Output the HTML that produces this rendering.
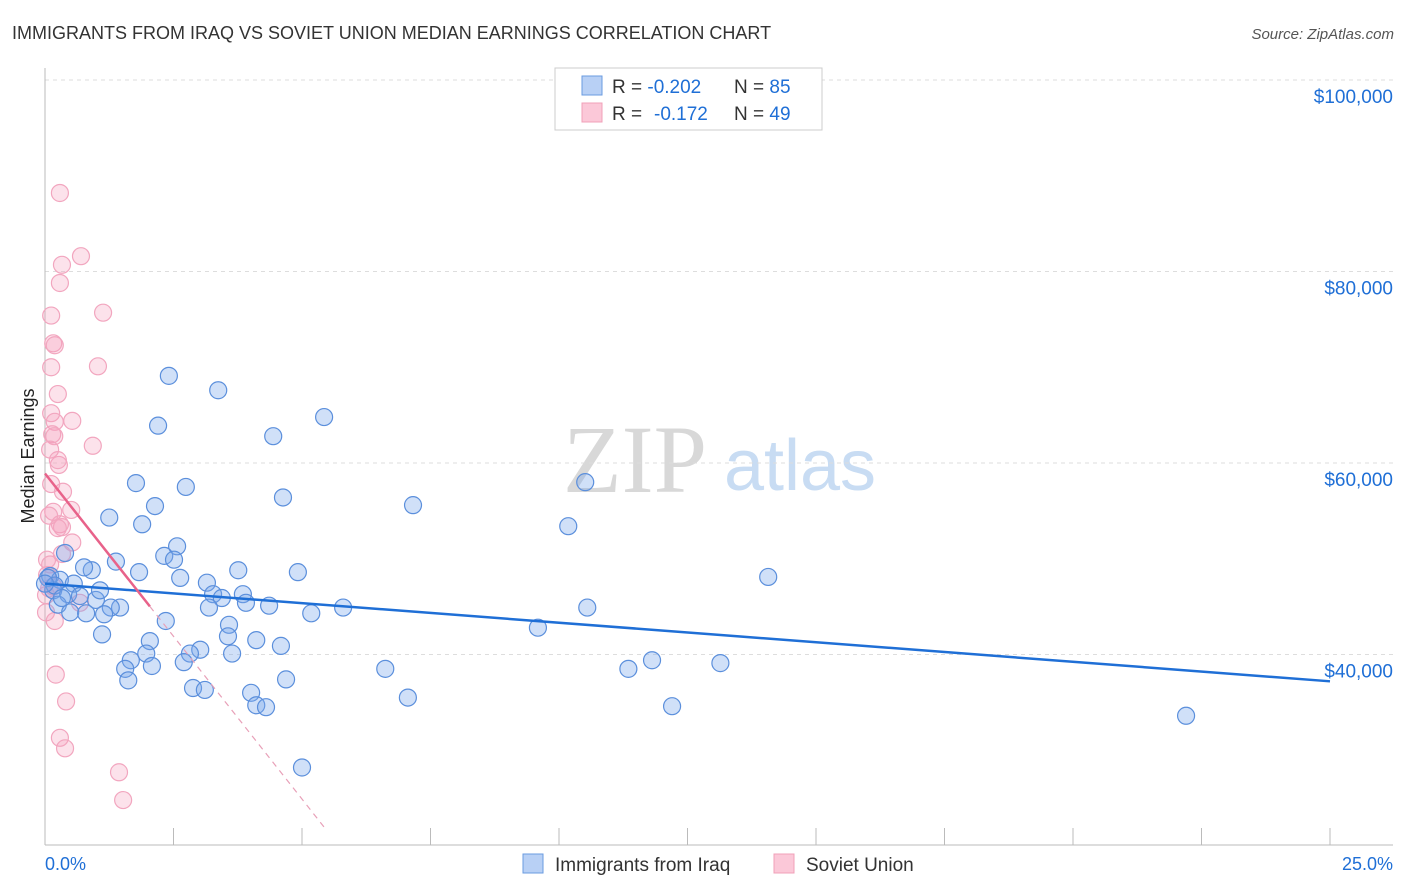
<!DOCTYPE html>
<html><head><meta charset="utf-8">
<style>
body{margin:0;background:#fff;font-family:"Liberation Sans",sans-serif;}
#wrap{position:relative;width:1406px;height:892px;overflow:hidden;}
</style></head>
<body>
<div id="wrap">
<svg id="svg" width="1406" height="892" xmlns="http://www.w3.org/2000/svg">
<text x="12" y="39" font-size="18" fill="#333">IMMIGRANTS FROM IRAQ VS SOVIET UNION MEDIAN EARNINGS CORRELATION CHART</text>
<text x="1394" y="39" font-size="15" fill="#555" font-style="italic" text-anchor="end">Source: ZipAtlas.com</text>
<text x="635" y="492" font-size="96" fill="#d8d8d8" font-family="Liberation Serif,serif" text-anchor="middle">ZIP</text>
<text x="800" y="490" font-size="72" fill="#c8dcf3" text-anchor="middle">atlas</text>
<text x="34" y="456" font-size="18" fill="#222" text-anchor="middle" transform="rotate(-90 34 456)">Median Earnings</text>
<g id="grid"></g><g id="pts"></g><g id="lines"></g>
<g>
<rect x="555" y="68" width="267" height="62" fill="#fff" stroke="#ccc"/>
<rect x="582" y="76" width="20" height="19" fill="#b8d0f5" stroke="#6a9be0"/>
<rect x="582" y="103" width="20" height="19" fill="#fbc8d8" stroke="#f0a0b8"/>
<text x="612" y="93" font-size="19" fill="#333">R = <tspan fill="#1f6fd6">-0.202</tspan><tspan x="734">N = </tspan><tspan fill="#1f6fd6">85</tspan></text>
<text x="612" y="120" font-size="19" fill="#333">R = <tspan fill="#1f6fd6" x="654">-0.172</tspan><tspan x="734">N = </tspan><tspan fill="#1f6fd6">49</tspan></text>
</g>
<g>
<rect x="523" y="854" width="20" height="19" fill="#b8d0f5" stroke="#6a9be0"/>
<text x="555" y="871" font-size="19" fill="#333">Immigrants from Iraq</text>
<rect x="774" y="854" width="20" height="19" fill="#fbc8d8" stroke="#f0a0b8"/>
<text x="806" y="871" font-size="19" fill="#333">Soviet Union</text>
</g>
<text x="45" y="870" font-size="18" fill="#1f6fd6">0.0%</text>
<text x="1393" y="870" font-size="18" fill="#1f6fd6" text-anchor="end">25.0%</text>
</svg>
</div>
<script>
const yTicks=[40000,60000,80000,100000];
const yTickLabels=["$40,000","$60,000","$80,000","$100,000"];
const iraqX=[2.41,3.37,2.20,4.44,5.43,1.77,2.74,2.14,4.63,7.16,10.51,1.25,1.89,10.18,2.57,2.32,2.51,0.39,1.38,0.91,1.83,0.76,2.63,3.76,4.92,3.15,14.07,0.10,0.29,0.56,0.16,0.45,0.99,1.46,1.28,3.27,3.44,3.85,3.91,3.19,4.36,5.18,5.80,10.55,0.25,0.49,0.80,1.15,2.35,3.58,3.56,1.11,2.04,3.02,4.11,4.59,9.59,1.97,1.67,2.82,3.64,2.70,1.56,2.08,6.62,11.35,11.81,13.14,1.62,4.69,2.88,3.11,4.01,7.06,4.11,4.30,12.20,22.20,5.00,0.06,0.19,0.00,0.33,0.68,1.07];
const iraqY=[69100,67600,63900,62800,64800,57900,57500,55500,56400,55600,58000,54300,53600,53400,51300,50300,49900,50600,49700,48800,48600,49100,48000,48800,48600,47500,48100,48200,47800,47400,46700,46300,45700,44900,44900,46300,45900,46300,45400,44900,45100,44300,44900,44900,45200,44400,44300,44200,43500,43100,41900,42100,41400,40500,41500,40900,42800,40100,39400,40100,40100,39200,38500,38800,38500,38500,39400,39100,37300,37400,36500,36300,36000,35500,34700,34500,34600,33600,28200,48000,47200,47400,45900,46100,46700];
const sovX=[0.29,0.70,0.33,0.29,1.13,0.12,0.16,0.19,1.03,0.12,0.25,0.12,0.53,0.19,0.14,0.18,0.93,0.10,0.27,0.25,0.12,0.35,0.51,0.16,0.29,0.08,0.33,0.53,0.33,0.04,0.10,0.04,0.16,0.02,0.68,0.02,0.19,0.21,0.41,0.29,0.39,1.44,1.52,0.25,0.08];
const sovY=[88200,81600,80700,78800,75700,75400,72500,72300,70100,70000,67200,65200,64400,64300,63000,62800,61800,61400,59800,60300,57800,57000,55100,54900,53600,54500,53300,51700,50500,49900,49400,48300,47100,46200,45400,44400,43500,37900,35100,31300,30200,27700,24800,53200,46900];
const iraqTrend=[47400,-408];
const sovTrend=[58900,-6800];
const xTicks=[0,2.5,5,7.5,10,12.5,15,17.5,20,22.5,25];

const NS="http://www.w3.org/2000/svg";
const X0=45,X1=1330,YB=845;
const xs=v=>X0+(v/25)*(X1-X0);
const ys=v=>80+(100000-v)/20000*191.5;
function mk(tag,attrs,parent){const e=document.createElementNS(NS,tag);for(const k in attrs)e.setAttribute(k,attrs[k]);parent.appendChild(e);return e;}
const grid=document.getElementById('grid'),pts=document.getElementById('pts'),lines=document.getElementById('lines');
yTicks.forEach((t,i)=>{
  const l=mk('line',{x1:X0,x2:1393,y1:ys(t),y2:ys(t),stroke:'#ddd','stroke-dasharray':'4,4'},grid);
  
  
  const tx=mk('text',{x:1393,y:ys(t)+23,'font-size':19,fill:'#1f6fd6','text-anchor':'end'},grid);
  tx.textContent=yTickLabels[i];
  
  
});
let ax=mk('line',{x1:X0,x2:X0,y1:68,y2:YB,stroke:'#bbb'},grid);


ax=mk('line',{x1:X0,x2:1393,y1:YB,y2:YB,stroke:'#bbb'},grid);


xTicks.forEach(t=>{
  const l=mk('line',{x1:xs(t),x2:xs(t),y1:828,y2:YB,stroke:'#bbb'},grid);
  
  
});
sovX.forEach((x,i)=>{
  const c=mk('circle',{cx:xs(x),cy:ys(sovY[i]),r:8.5,fill:'rgba(244,160,190,0.3)',stroke:'#f2a6bf','stroke-width':1.2},pts);
  
  
});
iraqX.forEach((x,i)=>{
  const c=mk('circle',{cx:xs(x),cy:ys(iraqY[i]),r:8.5,fill:'rgba(120,165,235,0.35)',stroke:'#5b8fdc','stroke-width':1.2},pts);
  
  
});
let tl=mk('line',{x1:xs(0),y1:ys(iraqTrend[0]),x2:xs(25),y2:ys(iraqTrend[0]+25*iraqTrend[1]),stroke:'#1f6fd6','stroke-width':2.5},lines);


const sx1=2.04, sxEnd=(22000-sovTrend[0])/sovTrend[1];
tl=mk('line',{x1:xs(0),y1:ys(sovTrend[0]),x2:xs(sx1),y2:ys(sovTrend[0]+sx1*sovTrend[1]),stroke:'#e8628a','stroke-width':2.5},lines);


tl=mk('line',{x1:xs(sx1),y1:ys(sovTrend[0]+sx1*sovTrend[1]),x2:xs(sxEnd),y2:ys(sovTrend[0]+sxEnd*sovTrend[1]),stroke:'#e8a0b8','stroke-width':1.2,'stroke-dasharray':'6,5'},lines);


</script>
</body></html>
